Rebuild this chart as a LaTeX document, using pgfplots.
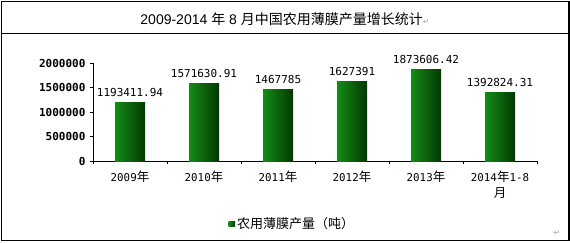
\documentclass[border=0pt]{standalone}
\usepackage{pgfplots}
\pgfplotsset{compat=1.18}
\usepackage{fontspec}
\setmainfont{Liberation Sans}
\newfontfamily\cjk{Noto Sans CJK SC}
\newfontfamily\mono{DejaVu Sans Mono}
\newfontfamily\sym{DejaVu Sans}

\definecolor{barlight}{RGB}{22,138,22}
\definecolor{bardark}{RGB}{0,58,0}
\definecolor{legendgreen}{RGB}{16,110,16}

% year label: digits in a monospaced face, the CJK character in Noto
\newcommand{\yr}[1]{{\mono\fontsize{10.8}{15}\selectfont #1}{\cjk\fontsize{12.5}{15}\selectfont 年}}

\pgfplotsset{
  greenbar/.style={ybar, bar width=30pt, bar shift=0pt, draw=none,
    left color=barlight, right color=bardark,
    point meta=explicit symbolic,
    nodes near coords={\pgfplotspointmeta},
    every node near coord/.append style={font=\mono\fontsize{11}{13}\selectfont,
      anchor=center, yshift=10pt, black}},
}

\begin{document}
\begin{tikzpicture}[x=1pt,y=1pt]
\useasboundingbox (0,0) rectangle (570,242);
% table frame with title row
\draw[line width=1.4pt] (1.5,1.5) rectangle (569,240.5);
\draw[line width=1.4pt] (1.5,208.5) -- (569,208.5);
\node[anchor=center, inner sep=0pt] at (285,223)
  {\fontsize{14}{16}\selectfont 2009-2014 {\cjk 年} 8 {\cjk 月中国农用薄膜产量增长统计}{\sym\fontsize{8}{10}\selectfont\color{gray!70}↵}};
\node[inner sep=0pt] at (557,9) {\sym\fontsize{8}{10}\selectfont\color{gray!70}↵};

\begin{axis}[
  at={(93pt,81pt)}, anchor=south west,
  scale only axis, width=444pt, height=98pt,
  xmin=-0.5, xmax=5.5, ymin=0, ymax=2000000,
  axis x line=bottom, axis y line=left,
  axis line style={-, black, line width=0.9pt},
  tick align=outside,
  scaled y ticks=false,
  xtick={0,...,5},
  xticklabels={{\yr{2009}},{\yr{2010}},{\yr{2011}},{\yr{2012}},{\yr{2013}},
    {\yr{2014}{\mono\fontsize{10.8}{15}\selectfont 1-8}\\[1pt]{\cjk\fontsize{12.5}{15}\selectfont 月}}},
  xticklabel style={align=center, anchor=north, yshift=-3pt, font=\fontsize{12}{15}\selectfont},
  major x tick style={draw=none},
  minor xtick={-0.5,0.5,...,5.5},
  minor tick length=3pt,
  minor x tick style={black, line width=0.8pt},
  ytick={0,500000,1000000,1500000,2000000},
  yticklabels={0,500000,1000000,1500000,2000000},
  yticklabel style={font=\mono\bfseries\fontsize{11}{13}\selectfont, anchor=east, xshift=-1pt},
  major tick length=3pt,
  major y tick style={black, line width=0.8pt},
  legend style={at={(0.449,-0.643)}, anchor=center, draw=none,
    font=\cjk\fontsize{13}{15}\selectfont, inner sep=0pt},
  legend image code/.code={\fill[legendgreen] (0pt,-2.8pt) rectangle (6.5pt,2.8pt);},
  clip=false,
]
% one plot per bar so that each bar carries its own gradient
\addplot[greenbar] coordinates {(0,1193411.94) [1193411.94]};
\addlegendentry{农用薄膜产量（吨）}
\addplot[greenbar, forget plot] coordinates {(1,1571630.91) [1571630.91]};
\addplot[greenbar, forget plot] coordinates {(2,1467785) [1467785]};
\addplot[greenbar, forget plot] coordinates {(3,1627391) [1627391]};
\addplot[greenbar, forget plot] coordinates {(4,1873606.42) [1873606.42]};
\addplot[greenbar, forget plot] coordinates {(5,1392824.31) [1392824.31]};
\end{axis}
\end{tikzpicture}
\end{document}
